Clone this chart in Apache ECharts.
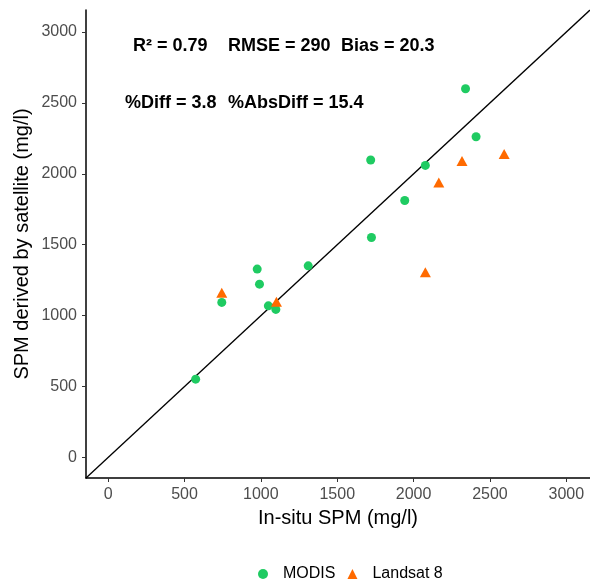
<!DOCTYPE html>
<html>
<head>
<meta charset="utf-8">
<script src="https://cdn.jsdelivr.net/npm/echarts@6/dist/echarts.min.js"></script>
<style>
html,body{margin:0;padding:0;background:#fff;}
#chart{width:590px;height:579px;}
</style>
</head>
<body>
<div id="chart"></div>
<script>
// Data
const modisX = [573, 744, 976, 991, 1049, 1098, 1310, 1719, 1724, 1942, 2077, 2340, 2409];
const modisY = [552, 1093, 1328, 1222, 1069, 1044, 1351, 2097, 1551, 1812, 2059, 2600, 2261];
const landsatX = [744, 1102, 2077, 2165, 2317, 2593];
const landsatY = [1161, 1097, 1305, 1939, 2090, 2139];
const tickValues = [0, 500, 1000, 1500, 2000, 2500, 3000];
const axisMin = -145;
const axisMax = 3155;
const seriesNames = ['MODIS', 'Landsat 8'];

const FONT = "'Liberation Sans', Arial, Helvetica, sans-serif";
const GREEN = '#1FCB62';
const ORANGE = '#FF6A00';

const zip = (xs, ys) => xs.map((x, i) => [x, ys[i]]);

const chart = echarts.init(document.getElementById('chart'), null, {renderer: 'canvas'});

function axisCommon(name, gap) {
  return {
    type: 'value',
    min: axisMin,
    max: axisMax,
    name: name,
    nameLocation: 'middle',
    nameGap: gap,
    nameMoveOverlap: false,
    nameTextStyle: {color: '#000', fontSize: 20, fontFamily: FONT},
    splitLine: {show: false},
    axisLine: {show: true, onZero: false, lineStyle: {color: '#000', width: 1.5}},
    axisTick: {show: true, length: 4, customValues: tickValues, lineStyle: {color: '#333', width: 1}},
    axisLabel: {
      customValues: tickValues,
      color: '#4D4D4D', fontSize: 16, fontFamily: FONT, margin: 9,
      formatter: v => String(v)
    }
  };
}

const annStyle = {fill: '#000', font: "bold 18px " + FONT, textVerticalAlign: 'middle'};
function ann(x, y, t) {
  return {type: 'text', left: x, top: y - 10, style: Object.assign({text: t}, annStyle)};
}

chart.setOption({
  animation: false,
  backgroundColor: '#fff',
  grid: {left: 86, right: -9, top: 10, bottom: 101, containLabel: false},
  xAxis: axisCommon('In-situ SPM (mg/l)', 30),
  yAxis: axisCommon('SPM derived by satellite (mg/l)', 54),
  legend: {
    data: [
      {name: seriesNames[0], icon: 'circle'},
      {name: seriesNames[1], icon: 'triangle'}
    ],
    left: 253,
    top: 561,
    itemWidth: 10,
    itemHeight: 10,
    itemGap: 12,
    textStyle: {color: '#000', fontSize: 16, fontFamily: FONT, padding: [0, 0, 0, 10]}
  },
  graphic: [
    ann(133, 47, 'R² = 0.79'),
    ann(228, 47, 'RMSE = 290'),
    ann(341, 47, 'Bias = 20.3'),
    ann(125, 104, '%Diff = 3.8'),
    ann(228, 104, '%AbsDiff = 15.4')
  ],
  series: [
    {
      type: 'line',
      data: [[axisMin, axisMin], [axisMax, axisMax]],
      symbol: 'none',
      lineStyle: {color: '#000', width: 1.3},
      silent: true,
      z: 1
    },
    {
      name: seriesNames[0],
      type: 'scatter',
      data: zip(modisX, modisY),
      symbol: 'circle',
      symbolSize: 9,
      itemStyle: {color: GREEN, opacity: 1},
      z: 3
    },
    {
      name: seriesNames[1],
      type: 'scatter',
      data: zip(landsatX, landsatY),
      symbol: 'triangle',
      symbolSize: [11, 10],
      itemStyle: {color: ORANGE, opacity: 1},
      z: 4
    }
  ]
});
</script>
</body>
</html>
